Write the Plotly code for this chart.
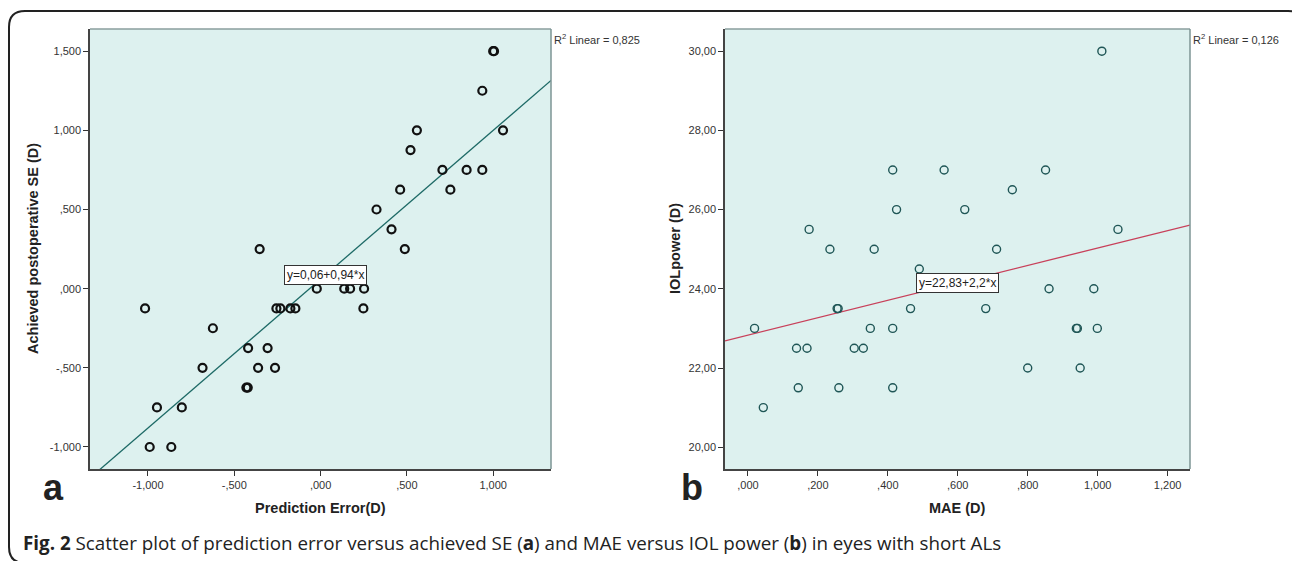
import plotly.graph_objects as go

W, H = 1292, 561

# ---------------- data ----------------
# Panel a: prediction error vs achieved postoperative SE
pe_x = [1.0, 1.005, 0.937, 0.558, 1.057, 0.521, 0.706, 0.846, 0.937, 0.461, 0.752,
        0.324, 0.411, -0.353, 0.488,
        -0.022, 0.137, 0.171, 0.252,
        -1.017, -0.256, -0.233, -0.175, -0.146, 0.248,
        -0.624, -0.42, -0.307,
        -0.684, -0.362, -0.264,
        -0.422, -0.430,
        -0.948, -0.804,
        -0.99, -0.865]
se_y = [1.5, 1.5, 1.25, 1.0, 1.0, 0.875, 0.75, 0.75, 0.75, 0.625, 0.625,
        0.5, 0.375, 0.25, 0.25,
        0.0, 0.0, 0.0, 0.0,
        -0.125, -0.125, -0.125, -0.125, -0.125, -0.125,
        -0.25, -0.375, -0.375,
        -0.5, -0.5, -0.5,
        -0.625, -0.625,
        -0.75, -0.75,
        -1.0, -1.0]

# Panel b: MAE vs IOL power
mae_x = [1.012, 0.414, 0.561, 0.851, 0.756, 0.425, 0.620, 0.175, 1.058,
         0.2345, 0.361, 0.711, 0.490,
         0.861, 0.989,
         0.255, 0.258, 0.465, 0.680,
         0.019, 0.350, 0.414, 0.939, 0.942, 0.999,
         0.139, 0.169, 0.304, 0.330,
         0.800, 0.950,
         0.144, 0.260, 0.414,
         0.044]
iol_y = [30.0, 27.0, 27.0, 27.0, 26.5, 26.0, 26.0, 25.5, 25.5,
         25.0, 25.0, 25.0, 24.5,
         24.0, 24.0,
         23.5, 23.5, 23.5, 23.5,
         23.0, 23.0, 23.0, 23.0, 23.0, 23.0,
         22.5, 22.5, 22.5, 22.5,
         22.0, 22.0,
         21.5, 21.5, 21.5,
         21.0]

# regression fits (intercept, slope) and R^2 labels
fit_a = (0.06, 0.94)
fit_b = (22.83, 2.2)
r2_a = "0,825"
r2_b = "0,126"
eq_a = "y=0,06+0,94*x"
eq_b = "y=22,83+2,2*x"

# tick values / labels
xa_ticks = [-1.0, -0.5, 0.0, 0.5, 1.0]
xa_text = ["-1,000", "-,500", ",000", ",500", "1,000"]
ya_ticks = [-1.0, -0.5, 0.0, 0.5, 1.0, 1.5]
ya_text = ["-1,000", "-,500", ",000", ",500", "1,000", "1,500"]
xb_ticks = [0.0, 0.2, 0.4, 0.6, 0.8, 1.0, 1.2]
xb_text = [",000", ",200", ",400", ",600", ",800", "1,000", "1,200"]
yb_ticks = [20, 22, 24, 26, 28, 30]
yb_text = ["20,00", "22,00", "24,00", "26,00", "28,00", "30,00"]

xa_range = [-1.336, 1.335]
ya_range = [-1.139, 1.64]
xb_range = [-0.0655, 1.264]
yb_range = [19.45, 30.56]

# ---------------- layout geometry (pixels) ----------------
A_L, A_R = 90, 551
B_L, B_R = 725, 1190
P_T, P_B = 29, 469


def px(x):
    return x / W


def py(y):
    return 1 - y / H


fig = go.Figure()

# regression lines
fig.add_trace(go.Scatter(
    x=xa_range, y=[fit_a[0] + fit_a[1] * v for v in xa_range],
    mode="lines", line=dict(color="#1d6a66", width=1.3),
    xaxis="x", yaxis="y", showlegend=False, hoverinfo="skip"))
fig.add_trace(go.Scatter(
    x=xb_range, y=[fit_b[0] + fit_b[1] * v for v in xb_range],
    mode="lines", line=dict(color="#c8405a", width=1.3),
    xaxis="x2", yaxis="y2", showlegend=False, hoverinfo="skip"))

# scatter points
fig.add_trace(go.Scatter(
    x=pe_x, y=se_y, mode="markers",
    marker=dict(symbol="circle-open", size=8, color="#111111", line=dict(width=2.2)),
    xaxis="x", yaxis="y", showlegend=False))
fig.add_trace(go.Scatter(
    x=mae_x, y=iol_y, mode="markers",
    marker=dict(symbol="circle-open", size=8, color="#1f5656", line=dict(width=1.4)),
    xaxis="x2", yaxis="y2", showlegend=False))

tickfont = dict(family="Liberation Sans Narrow, Arial Narrow, Liberation Sans, Arial", size=11, color="#333333")
axis_common = dict(showgrid=False, zeroline=False, ticks="outside", ticklen=5,
                   tickcolor="#333333", tickwidth=1.2, showline=True,
                   linecolor="#444444", linewidth=1.5, tickfont=tickfont,
                   fixedrange=True)

fig.update_layout(
    width=W, height=H,
    margin=dict(l=0, r=0, t=0, b=0),
    paper_bgcolor="white",
    plot_bgcolor="#ddf1ef",
    xaxis=dict(domain=[px(A_L), px(A_R)], range=xa_range, tickvals=xa_ticks,
               ticktext=xa_text, anchor="y", **axis_common),
    yaxis=dict(domain=[py(P_B), py(P_T)], range=ya_range, tickvals=ya_ticks,
               ticktext=ya_text, anchor="x", **axis_common),
    xaxis2=dict(domain=[px(B_L), px(B_R)], range=xb_range, tickvals=xb_ticks,
                ticktext=xb_text, anchor="y2", **axis_common),
    yaxis2=dict(domain=[py(P_B), py(P_T)], range=yb_range, tickvals=yb_ticks,
                ticktext=yb_text, anchor="x2", **axis_common),
)

shapes = []
# lighter top/right frame edges
for L, R in [(A_L, A_R), (B_L, B_R)]:
    shapes.append(dict(type="line", xref="paper", yref="paper",
                       x0=px(L), x1=px(R), y0=py(P_T), y1=py(P_T),
                       line=dict(color="#8a9e9e", width=1.5)))
    shapes.append(dict(type="line", xref="paper", yref="paper",
                       x0=px(R), x1=px(R), y0=py(P_T), y1=py(P_B),
                       line=dict(color="#7d9494", width=1.5)))

# outer rounded border
bx0, bx1, by0, by1, r = 9, 1304, 11, 563, 16
path = (f"M {px(bx0)},{py(by0 + r)} "
        f"Q {px(bx0)},{py(by0)} {px(bx0 + r)},{py(by0)} "
        f"L {px(bx1 - r)},{py(by0)} "
        f"Q {px(bx1)},{py(by0)} {px(bx1)},{py(by0 + r)} "
        f"L {px(bx1)},{py(by1 - r)} "
        f"Q {px(bx1)},{py(by1)} {px(bx1 - r)},{py(by1)} "
        f"L {px(bx0 + r)},{py(by1)} "
        f"Q {px(bx0)},{py(by1)} {px(bx0)},{py(by1 - r)} Z")
shapes.append(dict(type="path", xref="paper", yref="paper", path=path,
                   line=dict(color="#222222", width=2)))
fig.update_layout(shapes=shapes)

ann = []
labfont = dict(family="Liberation Sans, Arial", size=14.5, color="#222222")
# axis titles
ann.append(dict(x=px((A_L + A_R) / 2), y=py(508), xref="paper", yref="paper",
                text="<b>Prediction Error(D)</b>", showarrow=False, font=labfont,
                xanchor="center", yanchor="middle"))
ann.append(dict(x=px((B_L + B_R) / 2), y=py(508), xref="paper", yref="paper",
                text="<b>MAE (D)</b>", showarrow=False, font=labfont,
                xanchor="center", yanchor="middle"))
ann.append(dict(x=px(33), y=py((P_T + P_B) / 2), xref="paper", yref="paper",
                text="<b>Achieved postoperative SE (D)</b>", showarrow=False,
                font=labfont, textangle=-90, xanchor="center", yanchor="middle"))
ann.append(dict(x=px(675), y=py((P_T + P_B) / 2), xref="paper", yref="paper",
                text="<b>IOLpower (D)</b>", showarrow=False,
                font=labfont, textangle=-90, xanchor="center", yanchor="middle"))
# panel letters
ann.append(dict(x=px(54), y=py(487), xref="paper", yref="paper", text="<b>a</b>",
                showarrow=False, font=dict(family="Liberation Sans, Arial", size=36, color="#222222"),
                xanchor="center", yanchor="middle"))
ann.append(dict(x=px(692), y=py(487), xref="paper", yref="paper", text="<b>b</b>",
                showarrow=False, font=dict(family="Liberation Sans, Arial", size=36, color="#222222"),
                xanchor="center", yanchor="middle"))
# R^2 labels
r2font = dict(family="Liberation Sans Narrow, Arial Narrow, Liberation Sans, Arial", size=11, color="#333333")
ann.append(dict(x=px(A_R + 1), y=py(39), xref="paper", yref="paper",
                text=f"R<sup>2</sup> Linear = {r2_a}", showarrow=False, font=r2font,
                xanchor="left", yanchor="middle"))
ann.append(dict(x=px(B_R + 1), y=py(39), xref="paper", yref="paper",
                text=f"R<sup>2</sup> Linear = {r2_b}", showarrow=False, font=r2font,
                xanchor="left", yanchor="middle"))
# equation boxes
eqfont = dict(family="Liberation Sans Narrow, Arial Narrow, Liberation Sans, Arial", size=12, color="#222222")
ann.append(dict(x=0.027, y=0.088, xref="x", yref="y", text=eq_a, showarrow=False,
                font=eqfont, bgcolor="white", bordercolor="#333333", borderwidth=1,
                borderpad=2, xanchor="center", yanchor="middle"))
ann.append(dict(x=0.60, y=24.14, xref="x2", yref="y2", text=eq_b, showarrow=False,
                font=eqfont, bgcolor="white", bordercolor="#333333", borderwidth=1,
                borderpad=2, xanchor="center", yanchor="middle"))
# caption
ann.append(dict(x=px(21), y=py(543), xref="paper", yref="paper",
                text="<b>Fig. 2</b> Scatter plot of prediction error versus achieved SE (<b>a</b>) "
                     "and MAE versus IOL power (<b>b</b>) in eyes with short ALs",
                showarrow=False, font=dict(family="Open Sans, Noto Sans, sans-serif", size=18.8, color="#222222"),
                xanchor="left", yanchor="middle"))
fig.update_layout(annotations=ann)

fig.write_html(
    "out.html",
    config={"displayModeBar": False},
    post_script="document.body.style.margin='0';document.body.style.overflow='hidden';",
)
